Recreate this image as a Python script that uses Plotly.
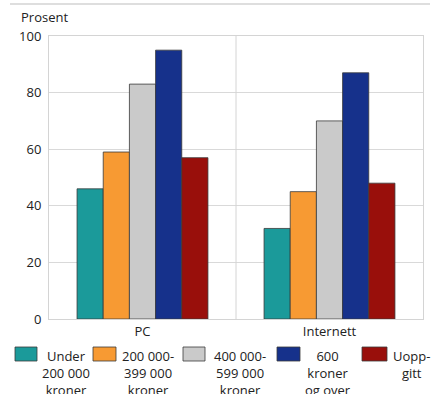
import plotly.graph_objects as go

# Share of households (%) by gross household income
categories = ["PC", "Internett"]
series_names = [
    "Under<br>200 000<br>kroner",
    "200 000-<br>399 000<br>kroner",
    "400 000-<br>599 000<br>kroner",
    "600<br>kroner<br>og over",
    "Uopp-<br>gitt",
]
values = [
    [46, 32],
    [59, 45],
    [83, 70],
    [95, 87],
    [57, 48],
]
colors = ["#1b9a9a", "#f79a33", "#cacaca", "#16318b", "#990f0b"]
y_ticks = [0, 20, 40, 60, 80, 100]

W, H = 432, 394
ML, MR, MT, MB = 49, 9, 36, 75
PW, PH = W - ML - MR, H - MT - MB
FONT = "Open Sans"


def px_x(px):
    return (px - ML) / PW


def px_y(py):
    return (H - MB - py) / PH


fig = go.Figure()
for name, vals, col in zip(series_names, values, colors):
    fig.add_trace(go.Bar(
        x=categories, y=vals, name=name,
        marker=dict(color=col, line=dict(color="#3a3a3a", width=0.8)),
        showlegend=False,
    ))

# Legend built from swatches and centred multi-line labels
swatch_x = [15, 93, 183, 277, 362]
swatch_w = [22, 23, 22, 23, 25]
label_cx = [66, 148, 240, 328, 411]
for sx, sw, cx, name, col in zip(swatch_x, swatch_w, label_cx, series_names, colors):
    fig.add_shape(type="rect", xref="paper", yref="paper",
                  x0=px_x(sx), x1=px_x(sx + sw), y0=px_y(361), y1=px_y(347),
                  fillcolor=col, line=dict(color="#3a3a3a", width=0.8))
    fig.add_annotation(xref="paper", yref="paper", x=px_x(cx), y=px_y(345),
                       xanchor="center", yanchor="top", align="center",
                       text=name, showarrow=False,
                       font=dict(family=FONT, size=13, color="#222"))

# Divider between the two categories
fig.add_shape(type="line", xref="x", yref="paper", x0=0.5, x1=0.5, y0=0, y1=1,
              line=dict(color="#d4d4d4", width=1))
# Rule across the top
fig.add_shape(type="line", xref="paper", yref="paper",
              x0=px_x(10), x1=px_x(430), y0=px_y(4), y1=px_y(4),
              line=dict(color="#bdbdbd", width=1))

fig.add_annotation(xref="paper", yref="paper", x=px_x(19), y=px_y(17.5),
                   xanchor="left", yanchor="middle", text="Prosent",
                   showarrow=False, font=dict(family=FONT, size=13, color="#222"))

fig.update_layout(
    width=W, height=H,
    margin=dict(l=ML, r=MR, t=MT, b=MB),
    paper_bgcolor="white", plot_bgcolor="white",
    barmode="group", bargap=0.3, bargroupgap=0,
    font=dict(family=FONT, size=13, color="#222"),
)
fig.update_xaxes(showline=True, mirror=True, linecolor="#d4d4d4", linewidth=1,
                 showgrid=False, ticks="", tickfont=dict(size=13))
fig.update_yaxes(range=[0, 100], tickvals=y_ticks, showgrid=True,
                 gridcolor="#d9d9d9", gridwidth=1, zeroline=False,
                 showline=True, mirror=True, linecolor="#d4d4d4", linewidth=1,
                 ticks="", ticklabelstandoff=4, tickfont=dict(size=13))

fig.write_html("out.html")
